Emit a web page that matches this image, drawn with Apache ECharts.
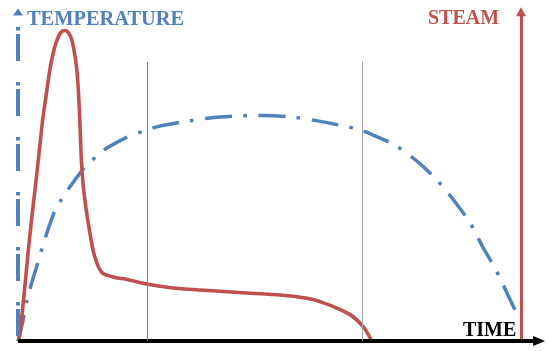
<!DOCTYPE html>
<html>
<head>
<meta charset="utf-8">
<script src="https://cdn.jsdelivr.net/npm/echarts@6/dist/echarts.min.js"></script>
<style>
html,body{margin:0;padding:0;background:#fff;}
#chart{width:548px;height:351px;}
</style>
</head>
<body>
<div id="chart"></div>
<script>
// Steam curve (time, steam) in arbitrary units
const steamTime = [0.1,0.4,1.2,2.0,2.8,3.6,4.4,4.9,5.6,6.4,7.0,7.6,8.2,8.7,9.3,9.9,10.5,10.9,11.3,11.7,12.0,12.2,12.4,12.6,12.9,13.3,13.8,14.3,14.9,15.6,16.3,17.1,19.3,21.7,25.6,30.8,36.2,45.5,52.1,57.5,60.6,63.6,66.1,67.6,68.8,69.6,70.3];
const steamValue = [0,2.4,13.9,26.6,38.1,48.6,59.8,66.8,74.3,82.5,87.0,90.3,92.4,93.5,93.8,93.4,91.8,89.7,86.4,81.9,75.8,69.8,62.2,54.7,48.0,42.6,37.2,32.6,27.5,23.9,21.5,20.2,19.2,18.6,17.2,16.0,15.4,14.5,13.9,12.9,11.6,9.8,7.9,6.0,4.0,2.1,0];
// Temperature curve (time, temperature)
const tempTime = [0,0.8,1.8,3.0,4.0,4.8,5.8,7.4,8.7,10.3,13.3,15.7,17.7,21.3,24.9,27.6,32.8,38.2,43.5,46.1,48.7,54.1,59.6,64.6,67.6,70.6,74.9,79.5,83.3,86.9,89.9,92.4,94.8,97.4,99.8];
const tempValue = [0,4.8,12.4,19.0,23.9,28.1,32.9,39.6,42.9,46.5,52.6,55.9,58.3,61.3,63.4,64.7,66.2,67.4,68.0,68.1,68.1,67.7,66.5,65.0,64.0,62.2,59.2,54.1,48.6,42.0,35.6,28.4,22.1,13.9,6.3];
// Phase separators (time) and their top value
const phaseTimes = [25.6, 68.4];
const phaseTop = 84.3;
// Axis extents
const timeAxisEnd = 103.6;
const steamAxisAt = 100;
const steamAxisTop = 99.5;
const tempAxisTop = 94.9;
const tempArrowAt = 99.4;
// Labels
const labelTemp = 'TEMPERATURE';
const labelSteam = 'STEAM';
const labelTime = 'TIME';

const RED = '#C0504D';
const BLUE = '#4F81BD';

const steamData = steamTime.map((t, i) => [t, steamValue[i]]);
const tempData = tempTime.map((t, i) => [t, tempValue[i]]);

const chart = echarts.init(document.getElementById('chart'), null, {renderer: 'canvas'});
const font = '"Liberation Serif", "Times New Roman", serif';

chart.setOption({
  animation: false,
  backgroundColor: '#ffffff',
  grid: {left: 18, right: 0, top: 0, bottom: 10, containLabel: false},
  xAxis: {type: 'value', min: 0, max: 105.37, show: false},
  yAxis: {type: 'value', min: 0, max: 103.02, show: false},
  series: [
    {
      type: 'line',
      name: 'TEMPERATURE',
      data: tempData,
      symbol: 'none',
      smooth: 0.3,
      z: 2,
      lineStyle: {color: BLUE, width: 3.5, type: [27, 11.5, 3.5, 11.5], cap: 'butt'},
      markLine: {
        silent: true,
        animation: false,
        label: {show: false},
        data: [
          [
            {coord: [0, tempAxisTop], symbol: 'none'},
            {coord: [0, 0], symbol: 'none'}
          ]
        ],
        lineStyle: {color: BLUE, width: 4, type: [3.5, 3.5, 27, 21]}
      },
      markPoint: {
        silent: true,
        animation: false,
        data: [{coord: [0, tempArrowAt], symbol: 'triangle', symbolSize: [10, 7], itemStyle: {color: BLUE}, label: {show: false}}]
      }
    },
    {
      type: 'line',
      name: 'STEAM',
      data: steamData,
      symbol: 'none',
      smooth: 0.2,
      z: 3,
      lineStyle: {color: RED, width: 3.6, join: 'round'},
      markLine: {
        silent: true,
        animation: false,
        label: {show: false},
        data: [
          [
            {coord: [steamAxisAt, 0], symbol: 'none'},
            {coord: [steamAxisAt, steamAxisTop], symbol: 'triangle', symbolSize: [10, 9]}
          ],
          [
            {coord: [0, 0], symbol: 'none', lineStyle: {color: '#000', width: 4, type: 'solid'}},
            {coord: [timeAxisEnd, 0], symbol: 'triangle', symbolSize: [10, 12], lineStyle: {color: '#000', width: 4, type: 'solid'}}
          ],
          ...phaseTimes.map((t, i) => [
            {coord: [t, 0], symbol: 'none', lineStyle: {color: i === 0 ? '#808080' : '#a6a6a6', width: 1, type: 'solid'}},
            {coord: [t, phaseTop], symbol: 'none', lineStyle: {color: i === 0 ? '#808080' : '#a6a6a6', width: 1, type: 'solid'}}
          ])
        ],
        lineStyle: {color: RED, width: 3, type: 'solid'}
      }
    }
  ],
  graphic: [
    {type: 'text', left: 27, top: 9.5, style: {text: labelTemp, font: 'bold 20.4px ' + font, fill: BLUE}},
    {type: 'text', left: 428, top: 9, style: {text: labelSteam, font: 'bold 20px ' + font, fill: RED}},
    {type: 'text', left: 463, top: 320.5, style: {text: labelTime, font: 'bold 20px ' + font, fill: '#000'}, z: 10}
  ]
});
</script>
</body>
</html>
